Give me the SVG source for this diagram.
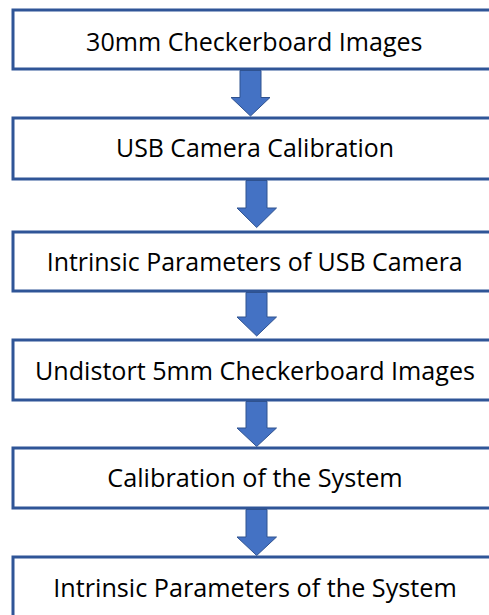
<svg xmlns="http://www.w3.org/2000/svg" width="489" height="615" viewBox="0 0 489 615">
  <style>
    .box { fill: #ffffff; stroke: #2F5597; stroke-width: 3; }
    .lbl { font-family: "Open Sans", "Liberation Sans", sans-serif; font-size: 26px; fill: #000000; text-anchor: middle; }
    .arr { fill: #4472C4; stroke: #2F528F; stroke-width: 1; stroke-linejoin: miter; }
  </style>
  <rect width="489" height="615" fill="#ffffff"/>

  <g id="step1">
    <rect class="box" x="13" y="10" width="500" height="59"/>
    <text class="lbl" x="254.3" y="50.5" textLength="336.5" lengthAdjust="spacingAndGlyphs">30mm Checkerboard Images</text>
  </g>
  <g id="step2">
    <rect class="box" x="13" y="118" width="500" height="61"/>
    <text class="lbl" x="255" y="157" textLength="278" lengthAdjust="spacingAndGlyphs">USB Camera Calibration</text>
  </g>
  <g id="step3">
    <rect class="box" x="13" y="232" width="500" height="59"/>
    <text class="lbl" x="254.7" y="271" textLength="416" lengthAdjust="spacingAndGlyphs">Intrinsic Parameters of USB Camera</text>
  </g>
  <g id="step4">
    <rect class="box" x="13" y="340" width="500" height="60"/>
    <text class="lbl" x="255" y="379.5" textLength="440" lengthAdjust="spacingAndGlyphs">Undistort 5mm Checkerboard Images</text>
  </g>
  <g id="step5">
    <rect class="box" x="13" y="448" width="500" height="60"/>
    <text class="lbl" x="255" y="487" textLength="295.4" lengthAdjust="spacingAndGlyphs">Calibration of the System</text>
  </g>
  <g id="step6">
    <rect class="box" x="13" y="557" width="500" height="80"/>
    <text class="lbl" x="255" y="597" textLength="403.4" lengthAdjust="spacingAndGlyphs">Intrinsic Parameters of the System</text>
  </g>

  <g id="connectors">
    <polygon class="arr" points="240,70.5 261,70.5 261,97.5 270,97.5 250.5,116 231,97.5 240,97.5"/>
    <polygon class="arr" points="246,180.5 267,180.5 267,208 276.5,208 256.7,227.5 237,208 246,208"/>
    <polygon class="arr" points="246,292.5 267,292.5 267,317 276.5,317 256.7,336 237,317 246,317"/>
    <polygon class="arr" points="246,401.5 267,401.5 267,428 276.5,428 256.7,446.5 237,428 246,428"/>
    <polygon class="arr" points="246,509.5 267,509.5 267,537 276.5,537 256.7,555.5 237,537 246,537"/>
  </g>
</svg>
